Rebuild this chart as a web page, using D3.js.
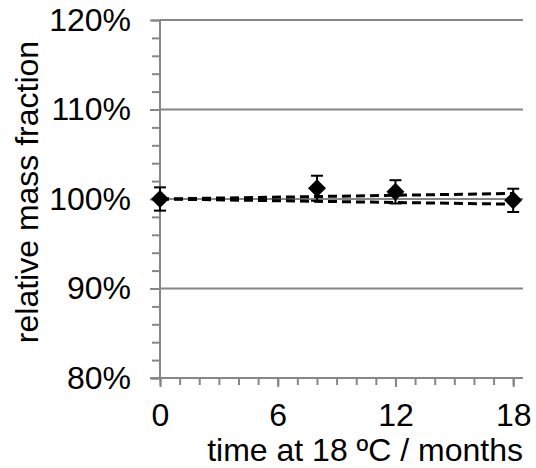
<!DOCTYPE html>
<html>
<head>
<meta charset="utf-8">
<script src="https://cdn.jsdelivr.net/npm/d3@7"></script>
<style>
  html, body { margin: 0; padding: 0; background: #fff; }
  svg text { font-family: "Liberation Sans", Arial, sans-serif; fill: #000; }
</style>
</head>
<body>
<svg id="chart" width="536" height="468"></svg>
<script>
// Storage time in months and measured relative mass fraction (%)
const months = [0, 8, 12, 18];
const massFraction = [100.0, 101.2, 100.8, 99.85];
const errorPct = [1.3, 1.4, 1.3, 1.3];

// Upper and lower trend bounds (start and end values, %)
const trendMonths = [0, 18];
const trendUpper = [100.0, 100.62];
const trendLower = [100.0, 99.42];

const yTicks = [80, 90, 100, 110, 120];
const yMinorTicks = d3.range(80, 120.1, 2);
const xTicks = [0, 6, 12, 18];
const xMinorTicks = d3.range(0, 18.1, 1);

const svg = d3.select("#chart");
const plotLeft = 160, plotRight = 523, plotTop = 20, plotBottom = 378;
const axisColor = "#868686";
const fontSize = 32;

const x = d3.scaleLinear().domain([0, 18.5]).range([plotLeft, plotRight]);
const y = d3.scaleLinear().domain([80, 120]).range([plotBottom, plotTop]);

// Horizontal gridlines
svg.append("g").selectAll("line")
  .data(yTicks.filter(v => v !== 80))
  .join("line")
  .attr("x1", plotLeft).attr("x2", plotRight)
  .attr("y1", d => y(d)).attr("y2", d => y(d))
  .attr("stroke", axisColor).attr("stroke-width", 2);

// Y axis: minor ticks, then major ticks with labels
const yMinor = d3.axisLeft(y).tickValues(yMinorTicks).tickSize(8).tickFormat("");
svg.append("g").attr("transform", `translate(${plotLeft},0)`).call(yMinor)
  .call(g => g.select(".domain").remove())
  .call(g => g.selectAll("line").attr("stroke", axisColor).attr("stroke-width", 2));

const yMajor = d3.axisLeft(y).tickValues(yTicks).tickSize(10).tickPadding(19)
  .tickFormat(d => d + "%");
svg.append("g").attr("transform", `translate(${plotLeft},0)`).call(yMajor)
  .call(g => g.select(".domain").attr("stroke", axisColor).attr("stroke-width", 2)
                .attr("d", `M0,${plotTop}V${plotBottom}`))
  .call(g => g.selectAll("line").attr("stroke", axisColor).attr("stroke-width", 2))
  .call(g => g.selectAll("text").attr("font-size", fontSize)
                .style("font-family", "'Liberation Sans', Arial, sans-serif").attr("fill", "#000"));

// X axis: minor ticks, then major ticks with labels
const xMinor = d3.axisBottom(x).tickValues(xMinorTicks).tickSize(7).tickFormat("");
svg.append("g").attr("transform", `translate(0,${plotBottom})`).call(xMinor)
  .call(g => g.select(".domain").remove())
  .call(g => g.selectAll("line").attr("stroke", axisColor).attr("stroke-width", 2));

const xMajor = d3.axisBottom(x).tickValues(xTicks).tickSize(9).tickPadding(16)
  .tickFormat(d3.format("d"));
svg.append("g").attr("transform", `translate(0,${plotBottom})`).call(xMajor)
  .call(g => g.select(".domain").attr("stroke", axisColor).attr("stroke-width", 2)
                .attr("d", `M${plotLeft - 10},0H${plotRight}`))
  .call(g => g.selectAll("line").attr("stroke", axisColor).attr("stroke-width", 2))
  .call(g => g.selectAll("text").attr("font-size", fontSize)
                .style("font-family", "'Liberation Sans', Arial, sans-serif").attr("fill", "#000"));

// Axis titles
svg.append("text")
  .attr("x", plotRight).attr("y", 461)
  .attr("text-anchor", "end")
  .attr("font-size", fontSize)
  .text("time at 18 ºC / months");

svg.append("text")
  .attr("transform", "translate(38,192) rotate(-90)")
  .attr("text-anchor", "middle")
  .attr("font-size", fontSize)
  .text("relative mass fraction");

// Dashed trend bounds
const line = d3.line().x(d => x(d[0])).y(d => y(d[1]));
[trendUpper, trendLower].forEach(vals => {
  svg.append("path")
    .attr("d", line(trendMonths.map((m, i) => [m, vals[i]])))
    .attr("fill", "none")
    .attr("stroke", "#000")
    .attr("stroke-width", 3)
    .attr("stroke-dasharray", "9,5");
});

// Error bars
const pts = months.map((m, i) => ({ m, v: massFraction[i], e: errorPct[i] }));
const eb = svg.append("g").attr("stroke", "#000").attr("stroke-width", 2);
eb.selectAll(".stem").data(pts).join("line")
  .attr("x1", d => x(d.m)).attr("x2", d => x(d.m))
  .attr("y1", d => y(d.v - d.e)).attr("y2", d => y(d.v + d.e));
eb.selectAll(".capTop").data(pts).join("line")
  .attr("x1", d => x(d.m) - 6).attr("x2", d => x(d.m) + 6)
  .attr("y1", d => y(d.v + d.e)).attr("y2", d => y(d.v + d.e));
eb.selectAll(".capBot").data(pts).join("line")
  .attr("x1", d => x(d.m) - 6).attr("x2", d => x(d.m) + 6)
  .attr("y1", d => y(d.v - d.e)).attr("y2", d => y(d.v - d.e));

// Diamond markers
const r = 9;
svg.append("g").selectAll("path").data(pts).join("path")
  .attr("d", d => {
    const cx = x(d.m), cy = y(d.v);
    return `M${cx},${cy - r}L${cx + r},${cy}L${cx},${cy + r}L${cx - r},${cy}Z`;
  })
  .attr("fill", "#000");
</script>
</body>
</html>
